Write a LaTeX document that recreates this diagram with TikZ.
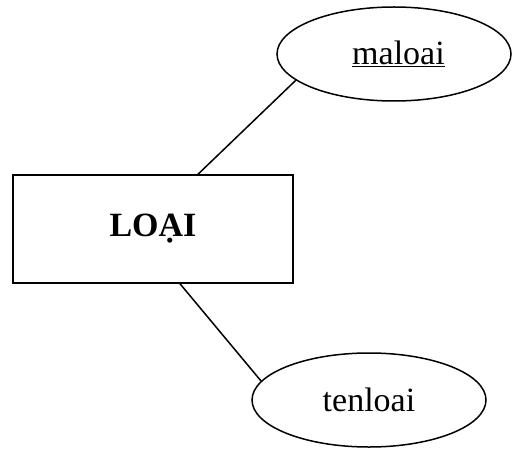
\documentclass[tikz,border=0pt]{standalone}
\usepackage{fontspec}
\setmainfont{Liberation Serif}
\usetikzlibrary{shapes.geometric}
\begin{document}
\begin{tikzpicture}[x=1pt,y=-1pt,
  entity/.style={draw,line width=1.5pt,rectangle,minimum width=280pt,minimum height=108pt,inner sep=0pt,font=\fontsize{34}{40}\selectfont\bfseries},
  attr/.style={draw,line width=1.5pt,ellipse,minimum width=234pt,minimum height=94pt,inner sep=0pt,font=\fontsize{34}{40}\selectfont},
  link/.style={line width=1.5pt}]
\useasboundingbox (0,0) rectangle (513,449);
\node[entity] (loai) at (153,229) {LOẠI};
\node[attr] (maloai) at (394,54) {\hspace{9pt}\underline{maloai}};
\node[attr] (tenloai) at (369,400) {tenloai};
\draw[link] ([xshift=45pt]loai.north) -- (maloai.195);
\draw[link] ([xshift=27pt]loai.south) -- (tenloai.170);
\end{tikzpicture}
\end{document}
